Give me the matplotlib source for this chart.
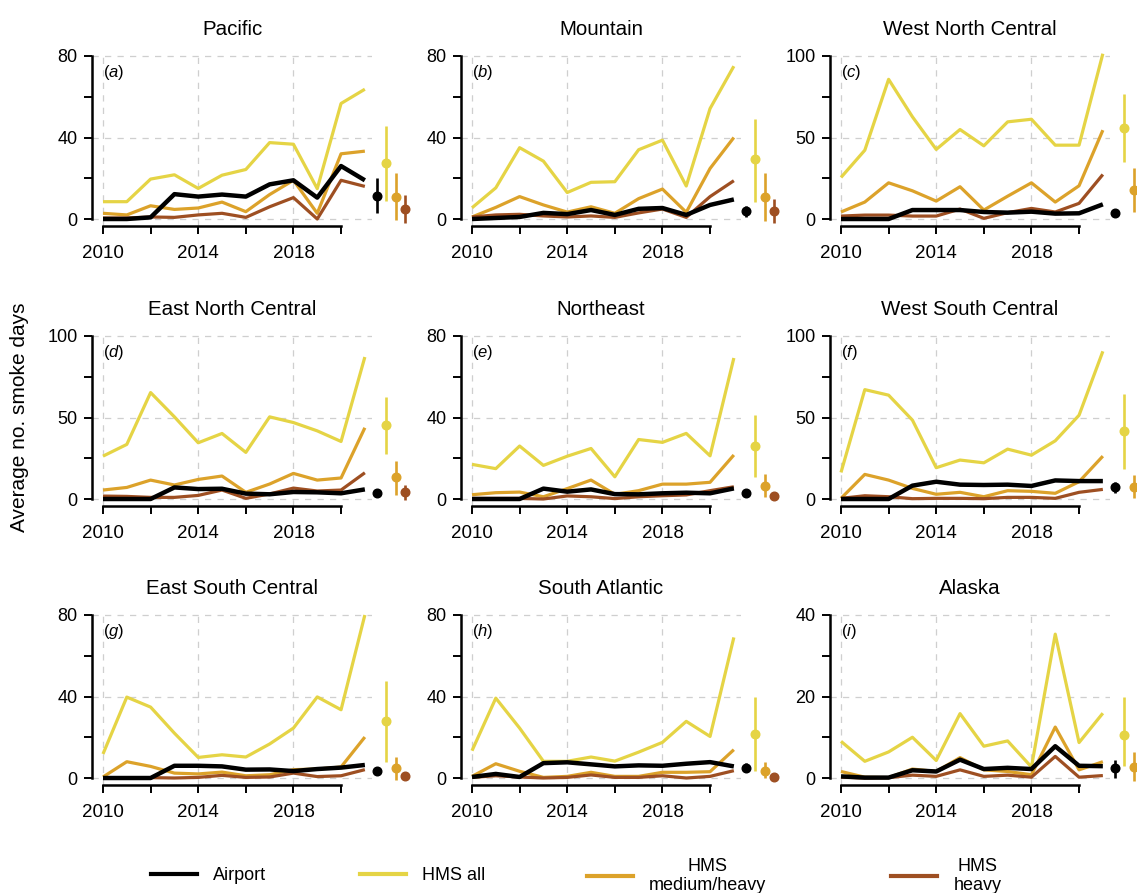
import matplotlib
matplotlib.use("Agg")
import matplotlib.pyplot as plt
from matplotlib.lines import Line2D
from matplotlib.ticker import FixedLocator, NullFormatter

plt.rcParams["font.family"] = ["Liberation Sans", "DejaVu Sans"]
plt.rcParams["mathtext.fontset"] = "custom"
plt.rcParams["mathtext.rm"] = "Liberation Sans"
plt.rcParams["mathtext.it"] = "Liberation Sans:italic"

years = list(range(2010, 2022))

regions = ["Pacific", "Mountain", "West North Central",
           "East North Central", "Northeast", "West South Central",
           "East South Central", "South Atlantic", "Alaska"]
panel_tags = ["a", "b", "c", "d", "e", "f", "g", "h", "i"]
y_max = [80, 80, 100, 100, 80, 100, 80, 80, 40]

# yearly average smoke days
airport = {
    "Pacific": [0, 0, 0.8, 12.2, 11, 12, 11, 17, 19, 10.5, 26, 19],
    "Mountain": [0, 0.5, 1, 3, 2.4, 4.4, 2, 5, 5.4, 2, 6.9, 9.6],
    "West North Central": [0, 0, 0, 5.5, 5.5, 5.5, 4.3, 3.9, 4.5, 3.3, 3.5, 9],
    "East North Central": [0, 0, 0, 7.1, 6.1, 6.3, 3.3, 2.9, 4.3, 4.1, 3.5, 5.9],
    "Northeast": [0, 0, 0, 5.1, 3.6, 4.7, 2.4, 2.3, 2.8, 3.1, 2.8, 5.2],
    "West South Central": [0, 0, 0, 8.2, 10.6, 8.8, 8.6, 8.8, 8, 11.4, 11, 11],
    "East South Central": [0, 0, 0, 6, 6, 5.7, 4.1, 4.2, 3.4, 4.4, 5.1, 6.4],
    "South Atlantic": [0.5, 2, 0.5, 7.3, 7.7, 6.7, 5.7, 6.2, 6, 7, 7.8, 5.7],
    "Alaska": [0.4, 0.1, 0.1, 1.9, 1.6, 4.5, 2.2, 2.5, 2.2, 7.8, 3, 2.9],
}
hms_all = {
    "Pacific": [8.5, 8.5, 19.6, 21.7, 15, 21.5, 24.3, 37.5, 36.7, 14.9, 56.7, 63.7],
    "Mountain": [5.5, 15.3, 35, 28.4, 13, 18, 18.3, 34, 38.7, 16.2, 54.2, 75],
    "West North Central": [25.5, 42.2, 85.7, 62.7, 42.7, 54.9, 44.9, 59.6, 61.2, 45.3, 45.3, 101.4],
    "East North Central": [26.3, 33.5, 65.3, 50.4, 34.5, 40.2, 28.6, 50.4, 46.9, 41.8, 35.3, 87.1],
    "Northeast": [17, 14.9, 26, 16.5, 21, 24.8, 10.9, 29.2, 27.8, 32.2, 21.2, 69.2],
    "West South Central": [16.3, 67.1, 63.7, 48.4, 19.2, 23.9, 22.2, 30.6, 26.9, 35.7, 51.4, 90.6],
    "East South Central": [11.8, 39.7, 34.8, 22, 10.1, 11.4, 10.3, 16.7, 24.5, 39.8, 33.5, 80],
    "South Atlantic": [13.4, 39.2, 24.5, 8.2, 8.2, 10.3, 8.3, 12.7, 17.5, 27.8, 20.4, 69],
    "Alaska": [9, 4.1, 6.4, 10, 4.3, 15.8, 7.8, 9.1, 2.7, 35.3, 8.7, 15.9],
}
hms_medium = {
    "Pacific": [2.8, 2, 6.5, 4.7, 5.4, 8.3, 3.6, 12, 19, 2.8, 32, 33.3],
    "Mountain": [1, 5.7, 11, 6.9, 3.4, 6, 2.8, 10, 14.7, 3.3, 24.8, 40],
    "West North Central": [4.3, 10.4, 22.2, 17.3, 11, 19.8, 5.5, 14, 22.2, 10.4, 20.4, 54.5],
    "East North Central": [5.5, 7.1, 11.6, 8.6, 12, 14.1, 4.1, 9.2, 15.7, 11.6, 12.9, 43.7],
    "Northeast": [2.1, 3.1, 3.4, 1.1, 5.1, 9.3, 2.3, 4.1, 7.3, 7.3, 8.2, 21.6],
    "West South Central": [0.4, 15.1, 11.6, 6.5, 2.9, 4.1, 1.4, 5.1, 4.7, 3.5, 10.6, 26.3],
    "East South Central": [0.5, 8, 5.7, 2.4, 2, 2.9, 1.1, 1.6, 4.1, 4.4, 5.4, 20.1],
    "South Atlantic": [0.8, 7, 3.3, 0.3, 0.8, 2.8, 0.8, 0.8, 2.8, 2.8, 3.1, 13.9],
    "Alaska": [1.6, 0.2, 0.1, 2.2, 1.6, 5, 2, 1.6, 0.8, 12.5, 2, 4],
}
hms_heavy = {
    "Pacific": [0.5, 0.5, 1, 0.8, 2, 2.8, 0.8, 6, 10.5, 0, 19, 16],
    "Mountain": [1, 2, 2.3, 1.5, 1, 1.5, 0.8, 3, 4.9, 0.8, 11, 18.8],
    "West North Central": [1.8, 2.4, 2.4, 1.8, 1.8, 6.1, 0.4, 3.9, 6.5, 4.3, 9.6, 27.3],
    "East North Central": [1.8, 1.6, 1, 1, 2.2, 5.5, 0.4, 3.1, 6.7, 4.9, 5.5, 16.1],
    "Northeast": [0.3, 0.3, 0.3, 0, 1.5, 1.1, 0.2, 1.1, 1.6, 2, 4.1, 6],
    "West South Central": [0.4, 2, 1.4, 0.2, 0.4, 0.4, 0.2, 1, 1, 0.4, 4.1, 5.9],
    "East South Central": [0, 0, 0.2, 0, 0.3, 1.3, 0.3, 0.5, 2.4, 0.7, 1.1, 4.1],
    "South Atlantic": [0.3, 1.1, 0.5, 0, 0.3, 1.5, 0.3, 0.3, 1.1, 0, 0.8, 3.6],
    "Alaska": [0.2, 0, 0.1, 0.7, 0.4, 2, 0.4, 0.7, 0.2, 5.3, 0.2, 0.6],
}

# mean with lower / upper bound over all years
airport_summary = {
    "Pacific": (11.4, 3.1, 19.9), "Mountain": (3.8, 0.8, 6.4),
    "West North Central": (3.9, 2.4, 5.5), "East North Central": (3.5, 2.4, 4.7),
    "Northeast": (3.1, 2.6, 3.6), "West South Central": (7.1, 3.5, 10.6),
    "East South Central": (3.6, 1.6, 5.2), "South Atlantic": (5.0, 2.9, 7.3),
    "Alaska": (2.4, 0.0, 4.5),
}
hms_all_summary = {
    "Pacific": (27.5, 9.0, 45.5), "Mountain": (29.4, 8.5, 49.3),
    "West North Central": (55.9, 34.7, 76.5), "East North Central": (45.1, 27.6, 62.4),
    "Northeast": (25.9, 10.6, 41.1), "West South Central": (41.6, 18.2, 64.7),
    "East South Central": (27.9, 7.7, 47.8), "South Atlantic": (21.7, 3.4, 39.8),
    "Alaska": (10.6, 2.9, 19.8),
}
hms_medium_summary = {
    "Pacific": (11.0, -0.5, 22.4), "Mountain": (11.0, -0.8, 22.4),
    "West North Central": (17.8, 4.1, 31.0), "East North Central": (13.3, 2.4, 23.3),
    "Northeast": (6.4, 0.8, 12.2), "West South Central": (7.1, 0.4, 14.7),
    "East South Central": (4.9, -0.8, 10.3), "South Atlantic": (3.3, 0.0, 7.8),
    "Alaska": (2.7, -0.8, 6.3),
}
hms_heavy_summary = {
    "Pacific": (4.9, -2.0, 11.8), "Mountain": (3.9, -2.0, 9.6),
    "West North Central": (8.5, 3.5, 14.0), "East North Central": (4.1, -0.6, 8.6),
    "Northeast": (1.5, 0.5, 2.5), "West South Central": (1.5, 0.0, 3.0),
    "East South Central": (0.8, 0.2, 1.4), "South Atlantic": (0.5, 0.1, 0.9),
    "Alaska": (0.5, 0.0, 1.5),
}

series_names = ["Airport", "HMS all", "HMS\nmedium/heavy", "HMS\nheavy"]
colors = ["#000000", "#E5D445", "#DCA22A", "#9E4F22"]
widths = [3.2, 2.3, 2.3, 2.3]
summary_x = [2021.5, 2021.9, 2022.3, 2022.7]

W, H = 1137, 893
fig = plt.figure(figsize=(W / 100, H / 100), dpi=100)

col_left = [92, 461, 830]
row_bottom = [226, 506, 785]
ax_w, ax_h = 280, 173

for k, region in enumerate(regions):
    r, c = divmod(k, 3)
    ax = fig.add_axes([col_left[c] / W, 1 - row_bottom[r] / H, ax_w / W, ax_h / H])
    top = y_max[k]

    lines = [airport, hms_all, hms_medium, hms_heavy]
    summaries = [airport_summary, hms_all_summary, hms_medium_summary, hms_heavy_summary]
    # coloured series first, airport on top
    for s in [1, 2, 3, 0]:
        ax.plot(years, lines[s][region], color=colors[s], lw=widths[s],
                solid_capstyle="butt", zorder=3 if s == 0 else 2)
        mean, lo, hi = summaries[s][region]
        eb = ax.errorbar([summary_x[s]], [mean], yerr=[[mean - lo], [hi - mean]],
                         fmt="o", color=colors[s], ms=6.2, elinewidth=1.9, capsize=0)
        for art in eb.get_children():
            art.set_clip_on(False)

    ax.set_xlim(2009.538, 2021.30)
    ax.set_ylim(-0.0429 * top, 1.0184 * top)

    ax.xaxis.set_major_locator(FixedLocator([2010, 2014, 2018]))
    ax.xaxis.set_minor_locator(FixedLocator([2012, 2016, 2020]))
    ax.yaxis.set_major_locator(FixedLocator([0, top / 2, top]))
    ax.yaxis.set_minor_locator(FixedLocator([top / 4, 3 * top / 4]))
    ax.xaxis.set_minor_formatter(NullFormatter())
    ax.yaxis.set_minor_formatter(NullFormatter())
    ax.set_yticklabels([f"{v:g}" for v in [0, top / 2, top]])

    ax.grid(True, which="major", color="#cfcfcf", ls=(0, (5, 5)), lw=0.9, zorder=0)

    for side in ["top", "right"]:
        ax.spines[side].set_visible(False)
    ax.spines["left"].set_bounds(0, top)
    ax.spines["bottom"].set_bounds(2010, 2020)
    ax.spines["left"].set_linewidth(1.8)
    ax.spines["bottom"].set_linewidth(1.8)

    ax.tick_params(which="both", direction="out", length=5.5, width=1.4, color="black")
    ax.tick_params(axis="x", which="both", pad=8, labelsize=13.5)
    ax.tick_params(axis="y", which="both", pad=5, labelsize=13)

    ax.set_title(region, fontsize=14.8, pad=13)
    ax.text(0.04, 0.885, "($\\it{" + panel_tags[k] + "}$)", transform=ax.transAxes,
            fontsize=12, va="center", ha="left")

fig.text(20 / W, 1 - 417 / H, "Average no. smoke days", rotation=90,
         fontsize=15, ha="center", va="center")

# one legend per series so each entry sits at its own spot along the bottom
legend_left = [151, 360, 587, 891]
for s in range(4):
    handle = Line2D([], [], color=colors[s], lw=3)
    leg = fig.legend([handle], [series_names[s]], loc="center left",
                     bbox_to_anchor=(legend_left[s] / W, 1 - 876 / H),
                     frameon=False, fontsize=13, borderpad=0, borderaxespad=0,
                     handlelength=2.55, handletextpad=0.9)
    for t in leg.get_texts():
        t.set_multialignment("center")

fig.savefig("out.png", dpi=100)
